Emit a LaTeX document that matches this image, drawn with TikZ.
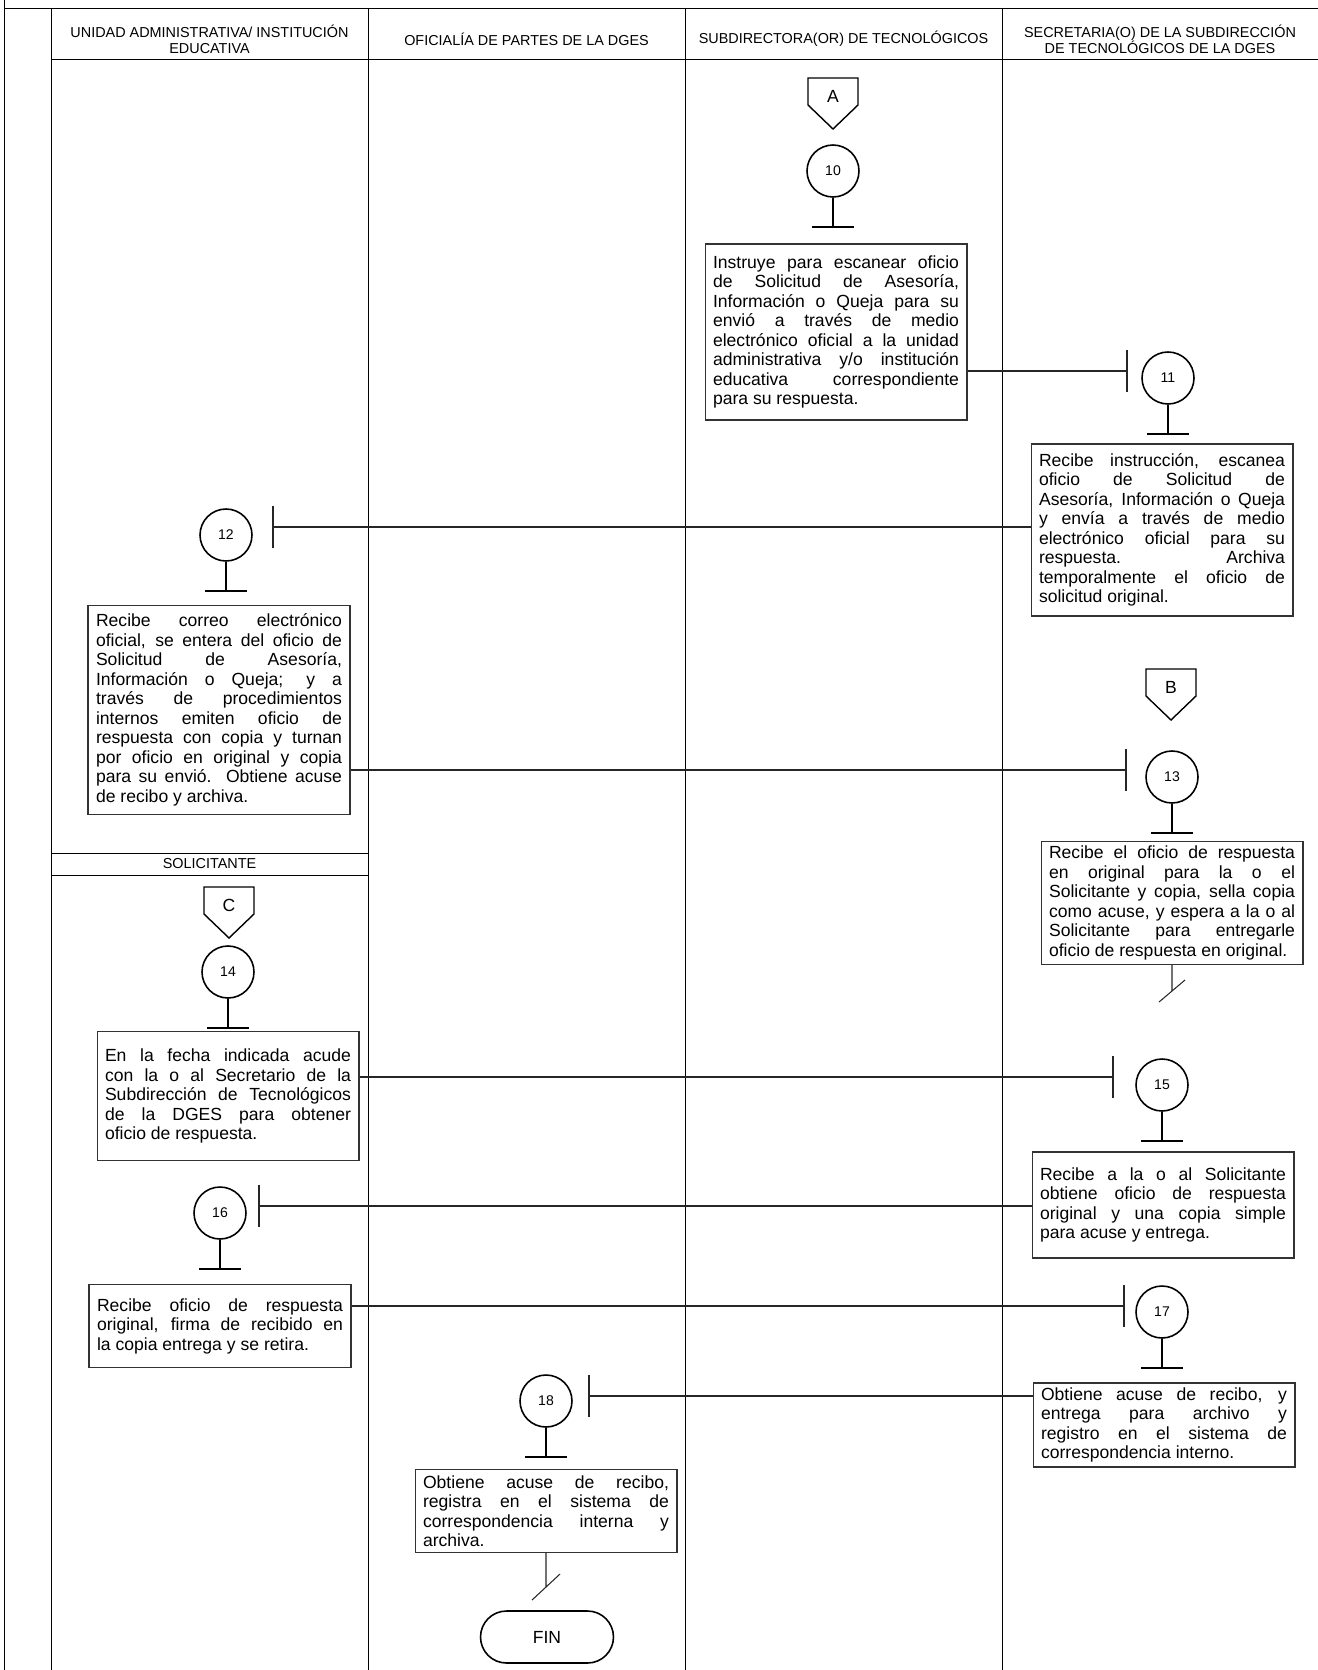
\documentclass[tikz,border=0pt]{standalone}
\usepackage{fontspec}
\setmainfont{Liberation Sans}
\usepackage{tikz}
\hyphenpenalty=10000
\exhyphenpenalty=10000
\tolerance=9999
\newcommand{\boxfont}{\fontsize{10}{11.1}\selectfont}
\newcommand{\headfont}{\fontsize{8.2}{9.1}\selectfont}
\newcommand{\numfont}{\fontsize{8}{9}\selectfont}
\tikzset{
  lane/.style={draw=black,line width=0.55pt},
  flow/.style={draw=black!85,line width=0.6pt},
  stem/.style={draw=black,line width=0.9pt},
  headtext/.style={font=\headfont,align=center,inner sep=0pt},
  taskbox/.style={draw=black!80,line width=0.6pt,text width=4.92cm,inner xsep=0.16cm,inner ysep=2pt,align=justify,font=\boxfont},
  stepcircle/.style={circle,draw=black,line width=0.9pt,minimum size=1.04cm,inner sep=0pt,font=\numfont},
  conlabel/.style={inner sep=0pt,font=\fontsize{10}{11}\selectfont},
  endbox/.style={draw=black,line width=0.9pt,rounded corners=0.52cm,minimum width=2.66cm,minimum height=1.04cm,font=\fontsize{10}{12}\selectfont},
  offpage/.pic={\draw[line width=0.8pt] (-25,0) -- (25,0) -- (25,27) -- (0,51) -- (-25,27) -- cycle;},
}

\begin{document}
\begin{tikzpicture}[x=0.02cm,y=-0.02cm]
  \useasboundingbox (0,0) rectangle (1318,1670);

  % lanes
  \draw[lane] (4,0) -- (4,1670);
  \draw[lane] (4,8) -- (1318,8);
  \draw[lane] (51,59) -- (1318,59);
  \foreach \x in {51,368,685,1002} \draw[lane] (\x,8) -- (\x,1670);
  \draw[lane] (51,853) rectangle (368,875);

  \node[headtext] (hunidad) at (209.5,39.5) {UNIDAD ADMINISTRATIVA/ INSTITUCIÓN\\EDUCATIVA};
  \node[headtext] (hoficialia) at (526.5,39) {OFICIALÍA DE PARTES DE LA DGES};
  \node[headtext] (hsubdir) at (843.5,39) {SUBDIRECTORA(OR) DE TECNOLÓGICOS};
  \node[headtext] (hsecret) at (1160,39) {SECRETARIA(O) DE LA SUBDIRECCIÓN\\DE TECNOLÓGICOS DE LA DGES};
  \node[headtext] (hsolic) at (209.5,864) {SOLICITANTE};

  % off-page connectors
  \pic at (833,78) {offpage};
  \node[conlabel] (conA) at (833,96) {A};
  \pic at (1171,669) {offpage};
  \node[conlabel] (conB) at (1171,687) {B};
  \pic at (229,887) {offpage};
  \node[conlabel] (conC) at (229,905) {C};

  % steps
  \node[stepcircle] (c10) at (833,171) {10};
  \node[stepcircle] (c11) at (1168,378) {11};
  \node[stepcircle] (c12) at (226,535) {12};
  \node[stepcircle] (c13) at (1172,777) {13};
  \node[stepcircle] (c14) at (228,972) {14};
  \node[stepcircle] (c15) at (1162,1085) {15};
  \node[stepcircle] (c16) at (220,1213) {16};
  \node[stepcircle] (c17) at (1162,1312) {17};
  \node[stepcircle] (c18) at (546,1401) {18};
  \foreach \c in {c10,c11,c12,c13,c14,c15,c16,c17,c18}
    \draw[stem] (\c.south) -- ++(0,29) ++(-21,0) -- ++(42,0);

  \node[taskbox,minimum height=3.52cm] (box10) at (836,332) {Instruye para escanear oficio\linebreak de Solicitud de Asesoría,\linebreak Información o Queja para su\linebreak envió a través de medio\linebreak electrónico oficial a la unidad\linebreak administrativa y/o institución\linebreak educativa correspondiente\linebreak para su respuesta.};
  \node[taskbox,minimum height=3.44cm] (box11) at (1162,530) {Recibe instrucción, escanea\linebreak oficio de Solicitud de\linebreak Asesoría, Información o Queja\linebreak y envía a través de medio\linebreak electrónico oficial para su\linebreak respuesta. Archiva\linebreak temporalmente el oficio de\linebreak solicitud original.};
  \node[taskbox,minimum height=4.18cm] (box12) at (219,710) {Recibe correo electrónico\linebreak oficial, se entera del oficio de\linebreak Solicitud de Asesoría,\linebreak Información o Queja; y a\linebreak través de procedimientos\linebreak internos emiten oficio de\linebreak respuesta con copia y turnan\linebreak por oficio en original y copia\linebreak para su envió. Obtiene acuse\linebreak de recibo y archiva.};
  \node[taskbox,minimum height=2.46cm] (box13) at (1172,903) {Recibe el oficio de respuesta\linebreak en original para la o el\linebreak Solicitante y copia, sella copia\linebreak como acuse, y espera a la o al\linebreak Solicitante para entregarle\linebreak oficio de respuesta en original.};
  \node[taskbox,minimum height=2.58cm] (box14) at (228,1096) {En la fecha indicada acude\linebreak con la o al Secretario de la\linebreak Subdirección de Tecnológicos\linebreak de la DGES para obtener\linebreak oficio de respuesta.};
  \node[taskbox,minimum height=2.12cm] (box15) at (1163,1205) {Recibe a la o al Solicitante\linebreak obtiene oficio de respuesta\linebreak original y una copia simple\linebreak para acuse y entrega.};
  \node[taskbox,minimum height=1.66cm] (box16) at (220,1326) {Recibe oficio de respuesta\linebreak original, firma de recibido en\linebreak la copia entrega y se retira.};
  \node[taskbox,minimum height=1.68cm] (box17) at (1164,1425) {Obtiene acuse de recibo, y\linebreak entrega para archivo y\linebreak registro en el sistema de\linebreak correspondencia interno.};
  \node[taskbox,minimum height=1.66cm] (box18) at (546,1511) {Obtiene acuse de recibo,\linebreak registra en el sistema de\linebreak correspondencia interna y\linebreak archiva.};
  \node[endbox] (fin) at (547,1637) {FIN};

  % connectors between lanes
  \coordinate (t11) at (1127,371);
  \coordinate (t12) at (273,527);
  \coordinate (t13) at (1126,770);
  \coordinate (t15) at (1113,1077);
  \coordinate (t16) at (259,1206);
  \coordinate (t17) at (1124,1306);
  \coordinate (t18) at (589,1396);
  \foreach \t in {t11,t12,t13,t15,t16,t17,t18}
    \draw[flow] (\t) ++(0,-21) -- ++(0,42);
  \draw[flow] (box10.east |- t11) -- (t11);
  \draw[flow] (box11.west |- t12) -- (t12);
  \draw[flow] (box12.east |- t13) -- (t13);
  \draw[flow] (box14.east |- t15) -- (t15);
  \draw[flow] (box15.west |- t16) -- (t16);
  \draw[flow] (box16.east |- t17) -- (t17);
  \draw[flow] (box17.west |- t18) -- (t18);

  % breaks
  \draw[flow] (box13.south) -- ++(0,26) ++(-13,11) -- ++(26,-22);
  \draw[flow] (box18.south) -- ++(0,34) ++(-14,13) -- ++(28,-26);
\end{tikzpicture}
\end{document}
